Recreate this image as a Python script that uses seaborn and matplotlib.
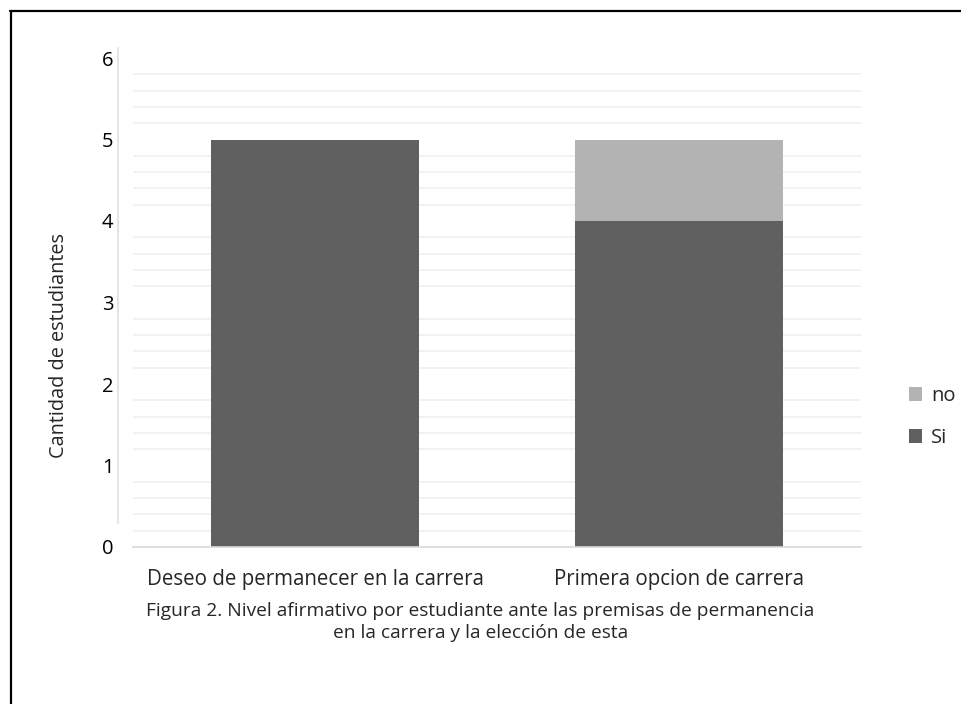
import matplotlib
matplotlib.use("Agg")
import matplotlib.pyplot as plt
from matplotlib.lines import Line2D
from matplotlib.patches import Patch
import numpy as np
import pandas as pd
import seaborn as sns

categories = ["Deseo de permanecer en la carrera", "Primera opcion de carrera"]
si_values = [5, 4]
no_values = [0, 1]
y_ticks = [0, 1, 2, 3, 4, 5, 6]
y_label = "Cantidad de estudiantes"
caption = ("Figura 2. Nivel afirmativo por estudiante ante las premisas de permanencia\n"
           "en la carrera y la elección de esta")

SI_COLOR = "#606060"
NO_COLOR = "#b3b3b3"

sns.set_style("white")
plt.rcParams["font.family"] = ["Open Sans", "DejaVu Sans"]

df = pd.DataFrame({"cat": categories, "si": si_values, "no": no_values})
df["total"] = df["si"] + df["no"]

fig = plt.figure(figsize=(9.61, 7.04), dpi=100)
ax = fig.add_axes([133 / 961, 1 - 547 / 704, 728 / 961, 489 / 704])

# stacked: total first (light), then Si on top of it
sns.barplot(data=df, x="cat", y="total", color=NO_COLOR, width=0.57,
            saturation=1, linewidth=0, ax=ax)
sns.barplot(data=df, x="cat", y="si", color=SI_COLOR, width=0.57,
            saturation=1, linewidth=0, ax=ax)

ax.set_ylim(0, 6)
ax.set_xlim(-0.5, 1.5)
ax.set_yticks(y_ticks)
ax.set_yticks(np.arange(0.2, 5.81, 0.2), minor=True)
ax.grid(False)
ax.grid(which="minor", axis="y", color="#efefef", lw=1.1)
ax.set_axisbelow(True)
ax.tick_params(axis="y", which="both", length=0, labelsize=14.5, pad=3, colors="#000000")
ax.tick_params(axis="x", length=0, labelsize=14.8, pad=16)

for side in ["top", "right"]:
    ax.spines[side].set_visible(False)
ax.spines["bottom"].set_color("#d9d9d9")
ax.spines["bottom"].set_linewidth(1.2)
ax.spines["left"].set_color("#e0e0e0")
ax.spines["left"].set_linewidth(1.2)
ax.spines["left"].set_position(("outward", 11))
ax.spines["left"].set_bounds(0.3, 6.12)

ax.set_xlabel("")
ax.set_ylabel(y_label, fontsize=14.3)
ax.yaxis.set_label_coords(-0.088, 0.413)

handles = [Patch(facecolor=NO_COLOR, edgecolor="none", label="no"),
           Patch(facecolor=SI_COLOR, edgecolor="none", label="Si")]
fig.legend(handles=handles, loc="center left", bbox_to_anchor=(901 / 961, 1 - 417 / 704),
           frameon=False, fontsize=14.5, handlelength=0.65, handleheight=0.65,
           handletextpad=0.45, labelspacing=1.1, borderaxespad=0)

fig.text(0.5, 1 - 622 / 704, caption, ha="center", va="center", fontsize=13.8,
         linespacing=1.35)

# page border (left and top only)
fig.add_artist(Line2D([10.5 / 961, 10.5 / 961], [0, 1 - 11 / 704], color="black", lw=1.6,
                      transform=fig.transFigure))
fig.add_artist(Line2D([10 / 961, 1], [1 - 11 / 704, 1 - 11 / 704], color="black", lw=1.6,
                      transform=fig.transFigure))

fig.savefig("out.png", dpi=100)
